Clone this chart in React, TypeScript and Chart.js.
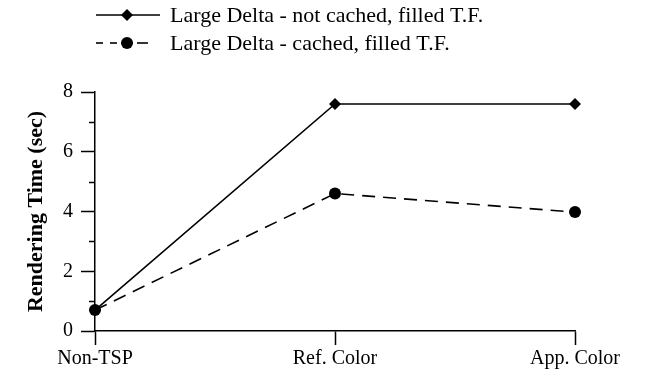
import React, { useEffect, useRef } from "react";
import { Chart, registerables } from "chart.js";

Chart.register(...registerables);

const categories = ["Non-TSP", "Ref. Color", "App. Color"];
const notCachedValues = [0.7, 7.6, 7.6];
const cachedValues = [0.7, 4.6, 3.98];
const seriesLabels = [
  "Large Delta - not cached, filled T.F.",
  "Large Delta - cached, filled T.F.",
];
const yTitle = "Rendering Time (sec)";
const yMin = 0;
const yMax = 8;
const minorTickValues = [1, 3, 5, 7];

const FONT = "'Liberation Serif', 'Times New Roman', serif";

const minorTicksPlugin = {
  id: "minorTicks",
  afterDraw(chart: any) {
    const y = chart.scales.y;
    const ctx = chart.ctx;
    ctx.save();
    ctx.strokeStyle = "#000";
    ctx.lineWidth = 1.5;
    minorTickValues.forEach((v) => {
      const py = Math.round(y.getPixelForValue(v)) + 0.5;
      ctx.beginPath();
      ctx.moveTo(y.right - 6, py);
      ctx.lineTo(y.right, py);
      ctx.stroke();
    });
    ctx.restore();
  },
};

const legendPlugin = {
  id: "customLegend",
  afterDraw(chart: any) {
    const ctx = chart.ctx;
    ctx.save();
    ctx.strokeStyle = "#000";
    ctx.fillStyle = "#000";
    ctx.lineWidth = 1.6;
    // row 1: solid line + diamond
    const y1 = 15;
    ctx.beginPath();
    ctx.moveTo(96, y1);
    ctx.lineTo(160, y1);
    ctx.stroke();
    ctx.beginPath();
    ctx.moveTo(127 - 6, y1);
    ctx.lineTo(127, y1 - 6);
    ctx.lineTo(127 + 6, y1);
    ctx.lineTo(127, y1 + 6);
    ctx.closePath();
    ctx.fill();
    // row 2: dashed line + circle
    const y2 = 43;
    const segs = [
      [96, 103],
      [110, 117],
      [121, 133],
      [137, 148],
    ];
    segs.forEach(([a, b]) => {
      ctx.beginPath();
      ctx.moveTo(a, y2);
      ctx.lineTo(b, y2);
      ctx.stroke();
    });
    ctx.beginPath();
    ctx.arc(127, y2, 6, 0, Math.PI * 2);
    ctx.fill();
    ctx.font = `22px ${FONT}`;
    ctx.textBaseline = "alphabetic";
    ctx.textAlign = "left";
    ctx.fillText(seriesLabels[0], 170, y1 + 7);
    ctx.fillText(seriesLabels[1], 170, y2 + 7);
    ctx.restore();
  },
};

export default function App() {
  const ref = useRef<HTMLCanvasElement | null>(null);

  useEffect(() => {
    if (!ref.current) return;
    const chart = new Chart(ref.current, {
      type: "line",
      data: {
        labels: categories,
        datasets: [
          {
            label: seriesLabels[0],
            data: notCachedValues,
            borderColor: "#000",
            backgroundColor: "#000",
            borderWidth: 1.6,
            pointStyle: "rectRot",
            pointRadius: 6,
            pointBorderWidth: 0,
            pointBackgroundColor: "#000",
            tension: 0,
            order: 1,
          },
          {
            label: seriesLabels[1],
            data: cachedValues,
            borderColor: "#000",
            backgroundColor: "#000",
            borderWidth: 1.6,
            borderDash: [13, 8],
            pointStyle: "circle",
            pointRadius: 6,
            pointBorderWidth: 0,
            pointBackgroundColor: "#000",
            tension: 0,
            order: 0,
          },
        ],
      },
      options: {
        animation: false,
        responsive: false,
        maintainAspectRatio: false,
        layout: { padding: { top: 92, right: 82, left: 0, bottom: 0 } },
        plugins: {
          legend: { display: false },
          tooltip: { enabled: false },
          title: { display: false },
        },
        scales: {
          x: {
            type: "category",
            offset: false,
            afterFit: (s: any) => {
              s.height = 42;
            },
            grid: {
              display: true,
              drawOnChartArea: false,
              offset: false,
              tickLength: 14,
              tickWidth: 1.5,
              tickColor: "#000",
            },
            border: { display: true, color: "#000", width: 1.5 },
            ticks: {
              color: "#000",
              font: { family: FONT, size: 20 },
              padding: 2,
              maxRotation: 0,
              autoSkip: false,
            },
          },
          y: {
            min: yMin,
            max: yMax,
            afterFit: (s: any) => {
              s.width = 95;
            },
            grid: {
              display: true,
              drawOnChartArea: false,
              tickLength: 14,
              tickWidth: 1.5,
              tickColor: (c: any) =>
                c.tick && c.tick.value % 2 === 0 ? "#000" : "rgba(0,0,0,0)",
            },
            border: { display: true, color: "#000", width: 1.5 },
            ticks: {
              stepSize: 1,
              autoSkip: false,
              color: "#000",
              font: { family: FONT, size: 20 },
              padding: 8,
              callback: (v: any) => (Number(v) % 2 === 0 ? String(v) : ""),
            },
            title: {
              display: true,
              text: yTitle,
              color: "#000",
              font: { family: FONT, size: 22, weight: "bold" },
              padding: { top: 23, bottom: 0 },
            },
          },
        },
      },
      plugins: [minorTicksPlugin, legendPlugin],
    });
    return () => chart.destroy();
  }, []);

  return (
    <div
      style={{
        position: "fixed",
        left: 0,
        top: 0,
        width: 657,
        height: 373,
        background: "#fff",
      }}
    >
      <canvas ref={ref} width={657} height={373} />
    </div>
  );
}
